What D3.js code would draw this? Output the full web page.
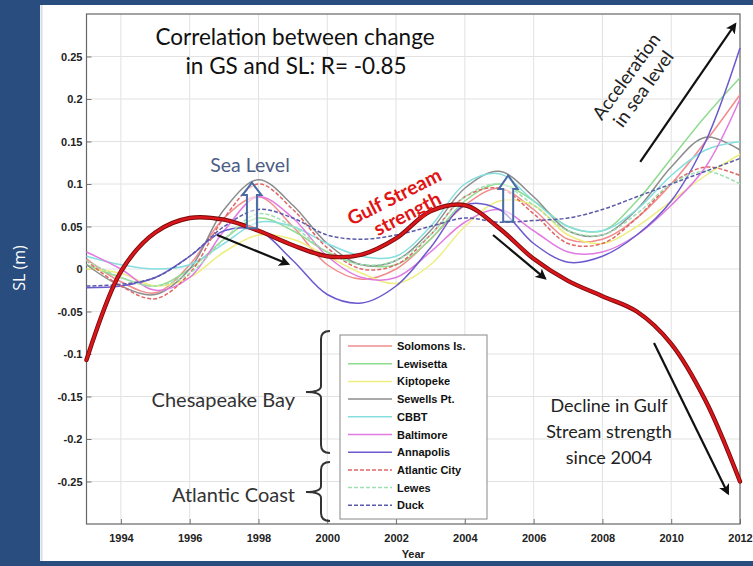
<!DOCTYPE html>
<html>
<head>
<meta charset="utf-8">
<script src="https://cdn.jsdelivr.net/npm/d3@7"></script>
<style>
  html, body { margin: 0; padding: 0; background: #fff; }
  svg { display: block; }
</style>
</head>
<body>
<svg id="chart" width="753" height="566"></svg>
<script>
// ---- data -------------------------------------------------------------
const years = d3.range(1993, 2013);

const stationNames = ["Solomons Is.", "Lewisetta", "Kiptopeke", "Sewells Pt.", "CBBT",
                      "Baltimore", "Annapolis", "Atlantic City", "Lewes", "Duck"];

const solomons   = [0.012, -0.015, -0.028, 0.005, 0.060, 0.085, 0.050, 0.005, -0.012, 0.000, 0.035, 0.075, 0.095, 0.070, 0.035, 0.035, 0.060, 0.100, 0.150, 0.205];
const lewisetta  = [0.005, -0.010, -0.020, 0.000, 0.035, 0.060, 0.045, 0.020, 0.005, 0.005, 0.035, 0.080, 0.100, 0.080, 0.050, 0.045, 0.080, 0.130, 0.180, 0.225];
const kiptopeke  = [0.000, -0.005, -0.020, -0.010, 0.020, 0.040, 0.035, 0.015, -0.005, -0.017, 0.005, 0.050, 0.080, 0.075, 0.040, 0.030, 0.050, 0.080, 0.110, 0.135];
const sewells    = [0.005, -0.020, -0.030, 0.000, 0.070, 0.105, 0.075, 0.030, 0.005, 0.010, 0.045, 0.095, 0.115, 0.085, 0.045, 0.040, 0.070, 0.120, 0.155, 0.140];
const cbbt       = [0.015, 0.005, 0.000, 0.005, 0.030, 0.055, 0.050, 0.030, 0.015, 0.015, 0.050, 0.100, 0.112, 0.080, 0.050, 0.045, 0.070, 0.110, 0.140, 0.150];
const baltimore  = [0.020, 0.000, -0.025, -0.010, 0.045, 0.085, 0.060, 0.015, -0.010, -0.010, 0.020, 0.055, 0.070, 0.045, 0.020, 0.020, 0.040, 0.075, 0.120, 0.200];
const annapolis  = [-0.022, -0.020, -0.010, 0.015, 0.045, 0.045, 0.010, -0.030, -0.040, -0.020, 0.025, 0.075, 0.070, 0.030, 0.008, 0.015, 0.040, 0.080, 0.150, 0.260];
const atlantic   = [0.010, -0.020, -0.035, -0.005, 0.060, 0.100, 0.070, 0.025, 0.000, 0.005, 0.040, 0.085, 0.095, 0.065, 0.030, 0.030, 0.060, 0.100, 0.120, 0.110];
const lewes      = [0.010, -0.010, -0.020, -0.005, 0.035, 0.065, 0.050, 0.020, 0.005, 0.010, 0.040, 0.085, 0.100, 0.075, 0.045, 0.040, 0.065, 0.100, 0.115, 0.100];
const duck       = [-0.020, -0.018, -0.010, 0.015, 0.050, 0.070, 0.060, 0.040, 0.035, 0.040, 0.050, 0.060, 0.055, 0.057, 0.060, 0.070, 0.085, 0.100, 0.115, 0.130];

const gulfStream = [-0.107, -0.003, 0.043, 0.060, 0.058, 0.045, 0.028, 0.015, 0.017, 0.036, 0.068, 0.075, 0.048, 0.012, -0.014, -0.032, -0.050, -0.088, -0.155, -0.250];

const xTickYears = d3.range(1994, 2013, 2);
const yTickValues = [-0.25, -0.2, -0.15, -0.1, -0.05, 0, 0.05, 0.1, 0.15, 0.2, 0.25];

// ---- styling ----------------------------------------------------------
const stationValues = [solomons, lewisetta, kiptopeke, sewells, cbbt, baltimore, annapolis, atlantic, lewes, duck];
const stationColors = ["#f28b8b", "#8fdb8f", "#eeee80", "#8c8c8c", "#86dede",
                       "#e27ae2", "#6a5acd", "#e06666", "#9ee0b0", "#5a5aa8"];
const stationDashed = [false, false, false, false, false, false, false, true, true, true];

const svg = d3.select("#chart");
const W = 753, H = 566;

// page frame
svg.append("rect").attr("width", W).attr("height", H).attr("fill", "#fff");
svg.append("rect").attr("x", 0).attr("y", 0).attr("width", W).attr("height", 5).attr("fill", "#2a4d80");
svg.append("rect").attr("x", 0).attr("y", 561).attr("width", W).attr("height", 5).attr("fill", "#2a4d80");
svg.append("rect").attr("x", 0).attr("y", 0).attr("width", 40).attr("height", H).attr("fill", "#2a4d80");
svg.append("line").attr("x1", 41.5).attr("x2", 41.5).attr("y1", 5).attr("y2", 561)
   .attr("stroke", "#d6dbe4").attr("stroke-width", 2);

svg.append("text")
   .attr("transform", "translate(25,268) rotate(-90)")
   .attr("text-anchor", "middle")
   .attr("font-family", "Open Sans, sans-serif")
   .attr("font-size", 16)
   .attr("fill", "#fff")
   .text("SL (m)");

// ---- scales -----------------------------------------------------------
const x = d3.scaleLinear().domain([1993, 2012]).range([86.5, 740]);
const y = d3.scaleLinear().domain([-0.3, 0.3]).range([524, 14]);

const plot = svg.append("g");

// grid
plot.append("g").selectAll("line").data(xTickYears.filter(v => v < 2012)).join("line")
    .attr("x1", d => x(d)).attr("x2", d => x(d)).attr("y1", y(0.3)).attr("y2", y(-0.3))
    .attr("stroke", "#e2e2e2").attr("stroke-width", 1);
plot.append("g").selectAll("line").data(yTickValues).join("line")
    .attr("x1", x(1993)).attr("x2", x(2012)).attr("y1", d => y(d)).attr("y2", d => y(d))
    .attr("stroke", "#e2e2e2").attr("stroke-width", 1);

// axes
const fontAxis = "Liberation Sans, Arial, sans-serif";
const xAxis = d3.axisBottom(x).tickValues(xTickYears).tickFormat(d3.format("d")).tickSizeInner(-5).tickSizeOuter(0).tickPadding(10);
const yAxis = d3.axisLeft(y).tickValues(yTickValues).tickFormat(d => d === 0 ? "0" : String(d)).tickSizeInner(-5).tickSizeOuter(0).tickPadding(4);

const gx = plot.append("g").attr("transform", `translate(0,${y(-0.3)})`).call(xAxis);
const gy = plot.append("g").attr("transform", `translate(${x(1993)},0)`).call(yAxis);
[gx, gy].forEach(g => {
  g.select(".domain").remove();
  g.selectAll("line").attr("stroke", "#777");
  g.selectAll("text").attr("font-family", fontAxis).attr("font-size", 11)
   .attr("font-weight", "bold").attr("fill", "#222");
});

// box
plot.append("rect")
    .attr("x", x(1993)).attr("y", y(0.3))
    .attr("width", x(2012) - x(1993)).attr("height", y(-0.3) - y(0.3))
    .attr("fill", "none").attr("stroke", "#666").attr("stroke-width", 1.2);

svg.append("text").attr("x", (x(1993) + x(2012)) / 2).attr("y", 558)
   .attr("text-anchor", "middle").attr("font-family", fontAxis).attr("font-size", 11)
   .attr("font-weight", "bold").attr("fill", "#222").text("Year");

// ---- series -----------------------------------------------------------
const line = d3.line()
  .x(d => x(d[0])).y(d => y(d[1]))
  .curve(d3.curveCatmullRom.alpha(0.5));

const series = plot.append("g");
stationValues.forEach((vals, i) => {
  series.append("path")
    .datum(years.map((yr, j) => [yr, vals[j]]))
    .attr("d", line)
    .attr("fill", "none")
    .attr("stroke", stationColors[i])
    .attr("stroke-width", 1.5)
    .attr("stroke-dasharray", stationDashed[i] ? "4,2" : null);
});

// Gulf Stream index (thick red with dark edge)
const gsData = years.map((yr, j) => [yr, gulfStream[j]]);
plot.append("path").datum(gsData).attr("d", line)
    .attr("fill", "none").attr("stroke", "#7a0a0a").attr("stroke-width", 4.4)
    .attr("stroke-linecap", "round");
plot.append("path").datum(gsData).attr("d", line)
    .attr("fill", "none").attr("stroke", "#d8161c").attr("stroke-width", 2.6)
    .attr("stroke-linecap", "round");

// ---- annotations --------------------------------------------------------
const defs = svg.append("defs");
defs.append("marker").attr("id", "head")
    .attr("viewBox", "0 0 10 10").attr("refX", 8).attr("refY", 5)
    .attr("markerWidth", 5).attr("markerHeight", 5)
    .attr("markerUnits", "strokeWidth").attr("orient", "auto")
    .append("path").attr("d", "M0,0 L10,5 L0,10 L2.5,5 Z").attr("fill", "#111");

// black trend arrows, given in (year, metres)
const trendArrows = [
  [[1996.8, 0.040], [1998.86, 0.006]],
  [[2004.82, 0.040], [2006.33, -0.011]],
  [[2009.1, 0.126], [2011.86, 0.288]],
  [[2009.5, -0.087], [2011.65, -0.264]]
];
trendArrows.forEach(([a, b]) => {
  svg.append("line")
    .attr("x1", x(a[0])).attr("y1", y(a[1])).attr("x2", x(b[0])).attr("y2", y(b[1]))
    .attr("stroke", "#111").attr("stroke-width", 2.2)
    .attr("marker-end", "url(#head)");
});

// hollow "sea level rise" arrows: [year, base, head-base, tip]
const hollowArrows = [
  [1997.81, 0.048, 0.087, 0.1015],
  [2005.26, 0.0555, 0.094, 0.110]
];
hollowArrows.forEach(([yr, base, neck, tip]) => {
  const cx = x(yr), sw = 5, hw = 9.5;
  const p = d3.path();
  p.moveTo(cx - sw, y(base));
  p.lineTo(cx - sw, y(neck));
  p.lineTo(cx - hw, y(neck));
  p.lineTo(cx, y(tip));
  p.lineTo(cx + hw, y(neck));
  p.lineTo(cx + sw, y(neck));
  p.lineTo(cx + sw, y(base));
  p.closePath();
  svg.append("path").attr("d", p.toString())
    .attr("fill", "rgba(255,255,255,0.55)").attr("stroke", "#4a6ba3").attr("stroke-width", 2);
});

const fontNote = "Lato, Open Sans, sans-serif";

// title lines
svg.append("text").attr("x", 295).attr("y", 45).attr("text-anchor", "middle")
   .attr("font-family", fontNote).attr("font-size", 22.5).attr("fill", "#111")
   .text("Correlation between change");
svg.append("text").attr("x", 296).attr("y", 74).attr("text-anchor", "middle")
   .attr("font-family", fontNote).attr("font-size", 22.5).attr("fill", "#111")
   .text("in GS and SL: R= -0.85");

svg.append("text").attr("x", 250).attr("y", 172).attr("text-anchor", "middle")
   .attr("font-family", fontNote).attr("font-size", 19.5).attr("fill", "#4d5d86")
   .text("Sea Level");

// Gulf Stream label
const gsLabel = svg.append("g").attr("transform", "translate(401,210) rotate(-27)");
gsLabel.append("text").attr("x", 0).attr("y", -8).attr("text-anchor", "middle")
   .attr("font-family", fontNote).attr("font-size", 19.5).attr("font-weight", "bold")
   .attr("fill", "#e01414").text("Gulf Stream");
gsLabel.append("text").attr("x", 4).attr("y", 13).attr("text-anchor", "middle")
   .attr("font-family", fontNote).attr("font-size", 19.5).attr("font-weight", "bold")
   .attr("fill", "#e01414").text("strength");

// acceleration label
const accLabel = svg.append("g").attr("transform", "translate(634,82) rotate(-54)");
accLabel.append("text").attr("x", 0).attr("y", -3).attr("text-anchor", "middle")
   .attr("font-family", fontNote).attr("font-size", 18.5).attr("fill", "#222").text("Acceleration");
accLabel.append("text").attr("x", 0).attr("y", 18).attr("text-anchor", "middle")
   .attr("font-family", fontNote).attr("font-size", 18.5).attr("fill", "#222").text("in sea level");

// decline label
["Decline in Gulf", "Stream strength", "since 2004"].forEach((t, i) => {
  svg.append("text").attr("x", 609).attr("y", 412 + i * 26).attr("text-anchor", "middle")
     .attr("font-family", fontNote).attr("font-size", 18).attr("fill", "#222").text(t);
});

// region labels and braces
svg.append("text").attr("x", 295).attr("y", 407).attr("text-anchor", "end")
   .attr("font-family", fontNote).attr("font-size", 20).attr("fill", "#333").text("Chesapeake Bay");
svg.append("text").attr("x", 295).attr("y", 502).attr("text-anchor", "end")
   .attr("font-family", fontNote).attr("font-size", 20).attr("fill", "#333").text("Atlantic Coast");

function brace(xs, xt, y1, ym, y2) {
  const p = d3.path();
  p.moveTo(xs + 9, y1);
  p.quadraticCurveTo(xs, y1, xs, y1 + 8);
  p.lineTo(xs, ym - 6);
  p.quadraticCurveTo(xs, ym, xt, ym);
  p.quadraticCurveTo(xs, ym, xs, ym + 6);
  p.lineTo(xs, y2 - 8);
  p.quadraticCurveTo(xs, y2, xs + 9, y2);
  return p.toString();
}
svg.append("path").attr("d", brace(321, 306, 331, 392, 453))
   .attr("fill", "none").attr("stroke", "#333").attr("stroke-width", 2);
svg.append("path").attr("d", brace(321, 306, 462, 492, 521))
   .attr("fill", "none").attr("stroke", "#333").attr("stroke-width", 2);

// ---- legend -----------------------------------------------------------
const legend = svg.append("g").attr("transform", "translate(340,335)");
legend.append("rect").attr("width", 147).attr("height", 184)
   .attr("fill", "#fff").attr("stroke", "#888").attr("stroke-width", 1);
stationNames.forEach((name, i) => {
  const ly = 11 + i * 17.7;
  legend.append("line").attr("x1", 8).attr("x2", 52).attr("y1", ly).attr("y2", ly)
     .attr("stroke", stationColors[i]).attr("stroke-width", 1.5)
     .attr("stroke-dasharray", stationDashed[i] ? "4,2" : null);
  legend.append("text").attr("x", 57).attr("y", ly + 4)
     .attr("font-family", fontAxis).attr("font-size", 11).attr("font-weight", "bold")
     .attr("fill", "#111").text(name);
});
</script>
</body>
</html>
